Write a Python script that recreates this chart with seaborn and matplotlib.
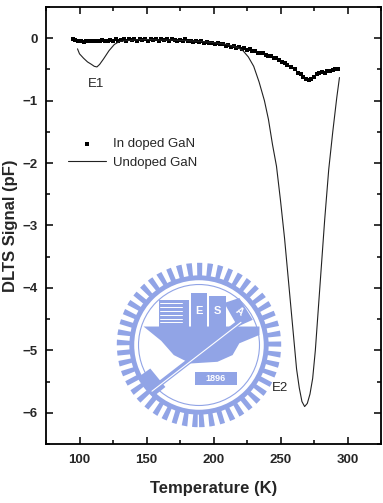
import numpy as np
import pandas as pd
import seaborn as sns
import matplotlib
matplotlib.use("Agg")
import matplotlib.pyplot as plt
from matplotlib.patches import Circle, Rectangle, Polygon
from matplotlib.ticker import MultipleLocator

# ==========================================
# DATA
# ==========================================
DOPED_T = [95, 97, 99, 101, 103, 105, 107, 109, 111, 113, 115, 117, 119, 121,
           123, 125, 127, 129, 131, 133, 135, 137, 139, 141, 143, 145, 147, 149,
           151, 153, 155, 157, 159, 161, 163, 165, 167, 169, 171, 173, 175, 177,
           179, 181, 183, 185, 187, 189, 191, 193, 195, 197, 199, 201, 203, 205,
           207, 209, 211, 213, 215, 217, 219, 221, 223, 225, 227, 229, 231, 233,
           235, 237, 239, 241, 243, 245, 247, 249, 251, 253, 255, 258, 261, 263,
           265, 267, 269, 271, 273, 275, 277, 279, 281, 283, 285, 287, 289, 291,
           293]
DOPED_V = [-0.01, -0.03, -0.05, -0.04, -0.06, -0.05, -0.05, -0.04, -0.05, -0.04,
           -0.05, -0.03, -0.04, -0.05, -0.03, -0.04, -0.02, -0.05, -0.03, -0.02,
           -0.04, -0.01, -0.03, -0.02, -0.04, -0.01, -0.03, -0.02, -0.04, -0.01,
           -0.03, -0.02, -0.04, -0.02, -0.03, -0.01, -0.04, -0.02, -0.03, -0.05,
           -0.03, -0.04, -0.02, -0.05, -0.04, -0.06, -0.04, -0.06, -0.05, -0.07,
           -0.06, -0.08, -0.07, -0.09, -0.08, -0.10, -0.09, -0.12, -0.11, -0.14,
           -0.12, -0.15, -0.14, -0.17, -0.16, -0.19, -0.18, -0.21, -0.20, -0.23,
           -0.24, -0.24, -0.27, -0.29, -0.28, -0.31, -0.31, -0.35, -0.38, -0.40,
           -0.43, -0.46, -0.50, -0.55, -0.58, -0.62, -0.65, -0.67, -0.66, -0.62,
           -0.58, -0.55, -0.54, -0.55, -0.52, -0.52, -0.51, -0.50, -0.49]

UNDOPED_T = [98.5, 100, 103, 106, 109, 111, 113, 115, 118, 122, 126, 130, 140,
             150, 160, 170, 180, 190, 200, 210, 218, 222, 226, 230, 234, 238,
             241, 244, 247, 250, 253, 256, 259, 262, 264, 266, 268, 270, 272,
             274, 276, 278, 280, 283, 286, 289, 292, 294]
UNDOPED_V = [-0.17, -0.25, -0.32, -0.38, -0.42, -0.45, -0.46, -0.42, -0.33,
             -0.20, -0.10, -0.05, -0.03, -0.02, -0.03, -0.03, -0.04, -0.05,
             -0.07, -0.10, -0.15, -0.20, -0.30, -0.45, -0.70, -1.00, -1.30,
             -1.70, -2.05, -2.60, -3.20, -3.90, -4.60, -5.30, -5.60, -5.82,
             -5.90, -5.85, -5.70, -5.45, -5.00, -4.40, -3.80, -2.90, -2.10,
             -1.50, -0.95, -0.63]

LABEL_DOPED = "In doped GaN"
LABEL_UNDOPED = "Undoped GaN"
PEAKS = ["E1", "E2"]
PEAK_T = [112.5, 249.5]
PEAK_V = [-0.74, -5.6]

LOGO_BLUE = "#91a4e6"
OUTPUT_IMAGE = "out.png"


def draw_watermark(fig):
    """Rough sketch of the light-blue university seal behind the data."""
    cx, cy, half = 199, 345, 84
    W, H = 383, 503
    lax = fig.add_axes([(cx - half) / W, 1 - (cy + half) / H,
                        2 * half / W, 2 * half / H], zorder=1)
    lax.set_xlim(-1, 1)
    lax.set_ylim(-1, 1)
    lax.set_aspect("equal")
    lax.axis("off")

    # gear teeth + rings
    lax.add_patch(Circle((0, 0), 0.90, fill=False, ec=LOGO_BLUE, lw=9.5,
                         linestyle=(0, (0.38, 0.36))))
    lax.add_patch(Circle((0, 0), 0.80, fill=False, ec=LOGO_BLUE, lw=3.5))
    lax.add_patch(Circle((0, 0), 0.72, fill=False, ec=LOGO_BLUE, lw=0.8))

    # anvil body
    lax.add_patch(Polygon([(-0.66, 0.22), (0.72, 0.22), (0.72, 0.12),
                           (0.48, 0.02), (0.40, -0.12), (0.22, -0.20),
                           (-0.10, -0.22), (-0.30, -0.12), (-0.45, 0.05)],
                          closed=True, fc=LOGO_BLUE, ec="none"))
    # books / blocks
    lax.add_patch(Rectangle((-0.48, 0.22), 0.36, 0.32, fc=LOGO_BLUE, ec="none"))
    for k in range(6):
        lax.plot([-0.46, -0.20], [0.27 + 0.045 * k] * 2, color="white", lw=0.7)
    lax.add_patch(Rectangle((-0.10, 0.22), 0.20, 0.40, fc=LOGO_BLUE, ec="none"))
    lax.add_patch(Rectangle((0.12, 0.22), 0.20, 0.36, fc=LOGO_BLUE, ec="none"))
    lax.add_patch(Polygon([(0.30, 0.50), (0.48, 0.56), (0.64, 0.30),
                           (0.46, 0.22)], closed=True, fc=LOGO_BLUE, ec="none"))
    lax.text(0.0, 0.40, "E", color="white", ha="center", va="center",
             fontsize=8, fontweight="bold")
    lax.text(0.22, 0.40, "S", color="white", ha="center", va="center",
             fontsize=8, fontweight="bold")
    lax.text(0.48, 0.40, "A", color="white", ha="center", va="center",
             fontsize=7, fontweight="bold", rotation=-35)
    # hammer
    lax.plot([-0.58, 0.52], [-0.55, 0.30], color=LOGO_BLUE, lw=4,
             solid_capstyle="butt")
    lax.plot([-0.56, 0.50], [-0.55, 0.27], color="white", lw=0.8)
    lax.add_patch(Polygon([(-0.72, -0.38), (-0.55, -0.62), (-0.40, -0.50),
                           (-0.58, -0.28)], closed=True, fc=LOGO_BLUE, ec="none"))
    # 1896 banner
    lax.add_patch(Rectangle((-0.05, -0.48), 0.50, 0.16, fc=LOGO_BLUE, ec="none"))
    lax.text(0.20, -0.40, "1896", color="white", ha="center", va="center",
             fontsize=6.5, fontweight="bold")


def make_plot():
    doped_df = pd.DataFrame({"T": DOPED_T, "V": DOPED_V})
    undoped_df = pd.DataFrame({"T": UNDOPED_T, "V": UNDOPED_V})

    sns.set_theme(style="ticks")
    plt.rcParams["font.family"] = ["Liberation Sans", "DejaVu Sans"]

    fig = plt.figure(figsize=(3.83, 5.03), dpi=100)
    fig.patch.set_facecolor("white")
    ax = fig.add_axes([46 / 383, 1 - 444 / 503, 335 / 383, 437 / 503], zorder=2)
    ax.patch.set_alpha(0)
    draw_watermark(fig)

    sns.scatterplot(data=doped_df, x="T", y="V", marker="s", s=10, color="black",
                    linewidth=0, ax=ax, label=LABEL_DOPED)
    sns.lineplot(data=undoped_df, x="T", y="V", color="#222222", linewidth=0.8,
                 ax=ax, label=LABEL_UNDOPED, sort=False)

    for name, t, v in zip(PEAKS, PEAK_T, PEAK_V):
        ax.text(t, v, name, ha="center", va="center", fontsize=9.5)

    ax.set_xlim(75, 325)
    ax.set_ylim(-6.5, 0.5)
    ax.xaxis.set_major_locator(MultipleLocator(50))
    ax.xaxis.set_minor_locator(MultipleLocator(25))
    ax.yaxis.set_major_locator(MultipleLocator(1))
    ax.yaxis.set_minor_locator(MultipleLocator(0.5))
    ax.tick_params(which="both", direction="in", top=True, right=True,
                   color="black", width=1.1)
    ax.tick_params(which="major", length=5)
    ax.tick_params(which="minor", length=3)
    ax.tick_params(axis="x", which="major", pad=7, labelsize=9.5)
    ax.tick_params(axis="y", which="major", pad=6, labelsize=9.5)
    for lab in ax.get_xticklabels() + ax.get_yticklabels():
        lab.set_fontweight("bold")
    for sp in ax.spines.values():
        sp.set_linewidth(1.3)
        sp.set_color("black")

    ax.set_xlabel("Temperature (K)", fontsize=12, fontweight="bold")
    ax.set_ylabel("DLTS Signal (pF)", fontsize=12, fontweight="bold")
    ax.xaxis.set_label_coords(0.5, -0.085)
    ax.yaxis.set_label_coords(-0.085, 0.5)

    ax.legend(loc="upper left", bbox_to_anchor=(0.066, 0.70), frameon=False,
              fontsize=9.5, borderaxespad=0, borderpad=0, handlelength=2.9,
              handletextpad=0.5, labelspacing=0.45, markerscale=1.0)

    fig.savefig(OUTPUT_IMAGE, dpi=100)


if __name__ == "__main__":
    make_plot()
